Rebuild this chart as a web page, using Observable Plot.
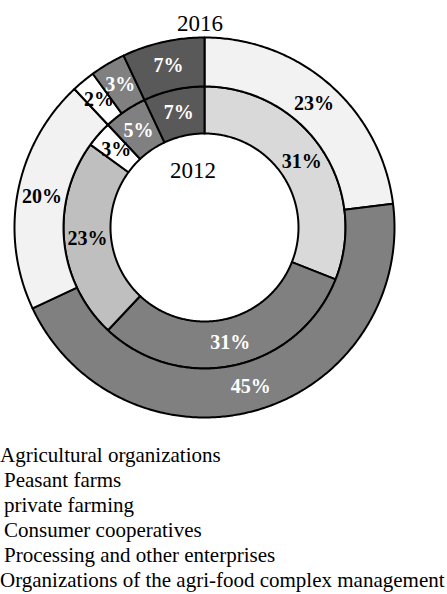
<!DOCTYPE html>
<html>
<head>
<meta charset="utf-8">
<script src="https://cdn.jsdelivr.net/npm/d3@7"></script>
<script src="https://cdn.jsdelivr.net/npm/@observablehq/plot@0.6"></script>
<style>
  html, body { margin: 0; padding: 0; background: #fff; }
  #wrap { position: relative; width: 447px; height: 594px; overflow: hidden; font-family: "Liberation Serif", "Times New Roman", serif; }
  .year { position: absolute; font-size: 23px; line-height: 1; transform: translate(-50%, -50%); color: #000; white-space: nowrap; }
  #legend { font-size: 21px; line-height: 25px; color: #000; white-space: nowrap; margin-top: 3px; }
  #legend div { padding-left: 4px; }
  #legend div.edge { padding-left: 0; }
</style>
</head>
<body>
<div id="wrap">
  <div id="chart"></div>
  <div id="legend"></div>
</div>
<script>
// ---- data ----
const categories = [
  "Agricultural organizations",
  "Peasant farms",
  "private farming",
  "Consumer cooperatives",
  "Processing and other enterprises",
  "Organizations of the agri-food complex management"
];
const years = ["2012", "2016"];
const values2012 = [31, 31, 23, 3, 5, 7];
const values2016 = [23, 45, 20, 2, 3, 7];
const fills2012 = ["#d9d9d9", "#808080", "#bfbfbf", "#ffffff", "#808080", "#595959"];
const fills2016 = ["#f2f2f2", "#808080", "#f2f2f2", "#ffffff", "#808080", "#595959"];
const labelColors2012 = ["#000", "#fff", "#000", "#000", "#fff", "#fff"];
const labelColors2016 = ["#000", "#fff", "#000", "#000", "#fff", "#fff"];

// ---- geometry (ring radii in scale units = px) ----
const rings = [
  {year: years[0], values: values2012, fills: fills2012, labels: labelColors2012, r0: 94, r1: 141},
  {year: years[1], values: values2016, fills: fills2016, labels: labelColors2016, r0: 141, r1: 190}
];

const polys = [];
const labels = [];
for (const ring of rings) {
  const total = d3.sum(ring.values);
  let cum = 0;
  ring.values.forEach((v, i) => {
    const a0 = cum / total * 2 * Math.PI;
    const a1 = (cum + v) / total * 2 * Math.PI;
    const key = ring.year + "-" + i;
    const n = Math.max(4, Math.ceil((a1 - a0) / 0.01));
    const pts = [];
    for (let k = 0; k <= n; k++) {
      const a = a0 + (a1 - a0) * k / n;
      pts.push({x: ring.r1 * Math.sin(a), y: ring.r1 * Math.cos(a)});
    }
    for (let k = n; k >= 0; k--) {
      const a = a0 + (a1 - a0) * k / n;
      pts.push({x: ring.r0 * Math.sin(a), y: ring.r0 * Math.cos(a)});
    }
    pts.push(pts[0]);
    for (const p of pts) polys.push({key, x: p.x, y: p.y, fill: ring.fills[i]});
    const am = (a0 + a1) / 2;
    const rm = (ring.r0 + ring.r1) / 2;
    labels.push({x: rm * Math.sin(am), y: rm * Math.cos(am), text: v + "%", color: ring.labels[i]});
    cum += v;
  });
}

const chart = Plot.plot({
  width: 447,
  height: 440,
  margin: 0,
  x: {domain: [-204, 243], axis: null},
  y: {domain: [-213, 227], axis: null},
  color: {type: "identity"},
  style: {background: "#fff"},
  marks: [
    Plot.line(polys, {x: "x", y: "y", z: "key", fill: "fill", stroke: "#000", strokeWidth: 2, strokeLinejoin: "round", curve: "linear"}),
    Plot.text(labels, {x: "x", y: "y", text: "text", fill: "color", fontSize: 20, fontWeight: "bold", fontFamily: "'Liberation Serif', 'Times New Roman', serif"})
  ]
});
document.getElementById("chart").appendChild(chart);

// year titles
const wrap = document.getElementById("wrap");
const yearPos = {"2016": [200, 23], "2012": [193, 170]};
for (const y of years) {
  const d = document.createElement("div");
  d.className = "year";
  d.textContent = y;
  d.style.left = yearPos[y][0] + "px";
  d.style.top = yearPos[y][1] + "px";
  wrap.appendChild(d);
}

// legend
const legend = document.getElementById("legend");
categories.forEach((c, i) => {
  const d = document.createElement("div");
  if (i === 0 || i === categories.length - 1) d.className = "edge";
  d.textContent = c;
  legend.appendChild(d);
});
</script>
</body>
</html>
